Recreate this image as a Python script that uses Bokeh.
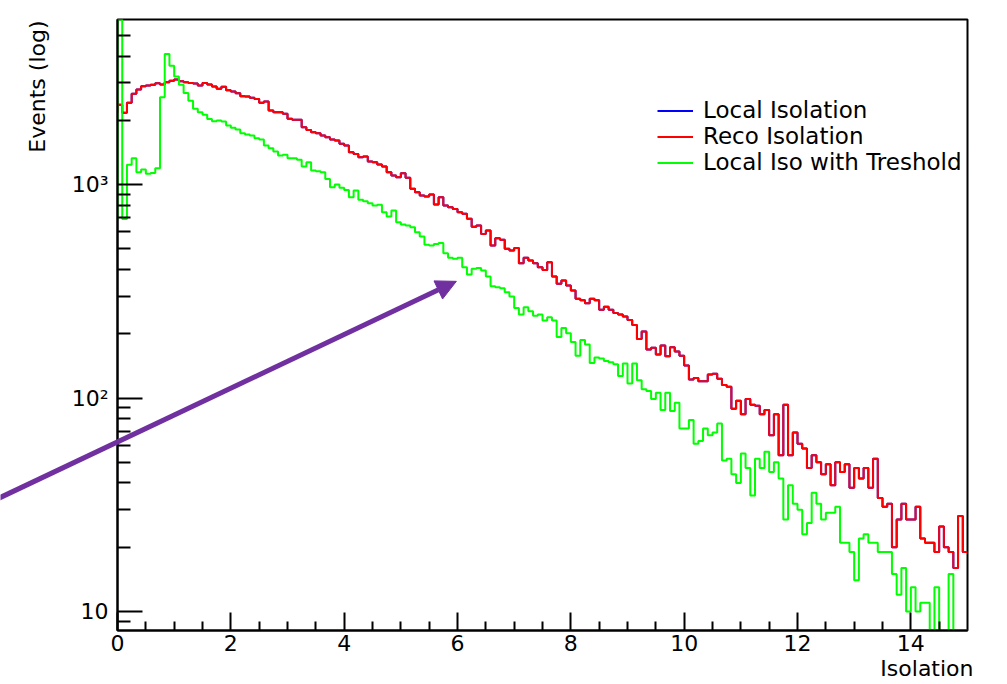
import numpy as np
from bokeh.plotting import figure
from bokeh.models import Range1d, FixedTicker, Title, Arrow, NormalHead
from bokeh.embed import file_html
from bokeh.resources import INLINE

# ---------------- data ----------------
x_min, x_max, n_bins = 0.0, 15.0, 180
y_min, y_max = 8.15, 5930.0

reco_isolation = [
    2362, 2168, 2416, 2661, 2786, 2884, 2908, 2931, 2981, 2940,
    3012, 3067, 3102, 3047, 3012, 2993, 2970, 2908, 2993, 2940,
    2876, 2807, 2870, 2767, 2729, 2680, 2594, 2585, 2548, 2519,
    2415, 2448, 2222, 2183, 2180, 2143, 2031, 2010, 2010, 1854,
    1803, 1758, 1739, 1697, 1667, 1626, 1607, 1552, 1524, 1417,
    1392, 1343, 1353, 1281, 1271, 1241, 1214, 1142, 1102, 1082,
    1129, 1075, 955, 920, 888, 879, 898, 806, 872, 797,
    783, 769, 742, 729, 691, 635, 643, 587, 609, 518,
    561, 551, 500, 491, 505, 428, 454, 441, 428, 410,
    398, 433, 371, 343, 355, 337, 319, 292, 287, 278,
    292, 287, 259, 268, 259, 250, 246, 241, 232, 220,
    189, 205, 169, 172, 160, 176, 157, 173, 165, 158,
    142, 122, 124, 120, 120, 129, 130, 123, 115, 113,
    89, 97, 84, 99, 93, 92, 84, 88, 67, 84,
    54, 93, 54, 69, 61, 58, 47, 54, 50, 44,
    49, 39, 50, 45, 49, 38, 47, 42, 47, 38,
    52, 34, 31, 32, 20, 27, 32, 27, 27, 31,
    22, 21, 21, 19, 25, 20, 19, 16, 28, 19,
]
# the blue curve is completely hidden under the red one in the picture
local_isolation = list(reco_isolation)

local_iso_threshold = [
    7000, 690, 1237, 1328, 1142, 1176, 1122, 1134, 1192, 2565,
    4093, 3605, 3203, 2931, 2686, 2466, 2264, 2183, 2120, 2030,
    1978, 1995, 1973, 1888, 1843, 1810, 1739, 1714, 1695, 1647,
    1624, 1523, 1480, 1428, 1368, 1378, 1328, 1328, 1305, 1214,
    1271, 1163, 1155, 1142, 1063, 972, 1000, 965, 944, 872,
    937, 848, 835, 818, 797, 804, 742, 708, 755, 666,
    650, 643, 631, 598, 571, 523, 518, 527, 533, 477,
    454, 449, 454, 410, 379, 403, 407, 396, 371, 334,
    330, 327, 313, 299, 264, 246, 266, 255, 243, 246,
    231, 239, 231, 193, 213, 201, 183, 158, 187, 178,
    146, 155, 153, 149, 147, 144, 127, 145, 117, 145,
    121, 110, 108, 99, 106, 88, 106, 87, 95, 72,
    72, 79, 61, 63, 72, 67, 69, 76, 51, 52,
    44, 40, 55, 47, 35, 52, 47, 56, 45, 50,
    42, 27, 39, 32, 30, 23, 26, 36, 32, 27,
    29, 29, 31, 21, 21, 19, 14, 22, 23, 21,
    21, 19, 19, 19, 15, 12, 16, 10, 13, 10,
    11, 11, 0, 13, 0, 0, 15, 0, 0, 0,
]

series_labels = ["Local Isolation", "Reco Isolation", "Local Iso with Treshold"]
series_colors = ["#0000ff", "#ff0000", "#00ff00"]

x_title = "Isolation"
y_title = "Events (log)"
x_ticks = [0, 2, 4, 6, 8, 10, 12, 14]
x_minor = [0.5, 1, 1.5, 2.5, 3, 3.5, 4.5, 5, 5.5, 6.5, 7, 7.5, 8.5, 9, 9.5,
           10.5, 11, 11.5, 12.5, 13, 13.5, 14.5]
y_ticks = [10, 100, 1000]
y_tick_labels = {10: "10", 100: "10²", 1000: "10³"}
y_minor = [9, 20, 30, 40, 50, 60, 70, 80, 90, 200, 300, 400, 500, 600, 700,
           800, 900, 2000, 3000, 4000, 5000]

arrow_x = [-2.1, 5.98]
arrow_y = [33.9, 352.0]

FONT = "DejaVu Sans"
W, H = 1007, 684
B_LEFT, B_RIGHT, B_TOP, B_BOTTOM = 117, 40, 19, 54

# ---------------- main figure ----------------
p = figure(width=W, height=H, y_axis_type="log",
           x_range=Range1d(x_min, x_max), y_range=Range1d(y_min, y_max),
           output_backend="svg", toolbar_location=None)
p.min_border_left = B_LEFT
p.min_border_right = B_RIGHT
p.min_border_top = B_TOP
p.min_border_bottom = B_BOTTOM
p.xgrid.visible = False
p.ygrid.visible = False
p.outline_line_color = "black"
p.outline_line_width = 2
p.background_fill_color = "white"
p.border_fill_color = "white"

edges = np.linspace(x_min, x_max, n_bins + 1)


def step_path(vals):
    v = np.asarray(vals, dtype=float)
    v = np.where(v <= 0, y_min, v)
    v = np.clip(v, y_min, y_max)
    xs = np.repeat(edges, 2)[1:-1]
    ys = np.repeat(v, 2)
    # ROOT starts the outline at the level of the neighbouring bin
    xs = np.concatenate([[edges[0]], xs])
    ys = np.concatenate([[v[1]], ys])
    return xs, ys


for vals, lab, col in zip([local_isolation, reco_isolation, local_iso_threshold],
                          series_labels, series_colors):
    xs, ys = step_path(vals)
    p.line(xs, ys, line_color=col, line_width=2, legend_label=lab)

# axes
for ax in (p.xaxis[0], p.yaxis[0]):
    ax.axis_line_width = 2
    ax.axis_line_color = "black"
    ax.major_tick_line_color = "black"
    ax.minor_tick_line_color = "black"
    ax.major_tick_line_width = 2
    ax.minor_tick_line_width = 2
    ax.major_tick_out = 0
    ax.minor_tick_out = 0
    ax.major_label_text_font = FONT
    ax.major_label_text_font_size = "22px"
    ax.major_label_text_color = "black"

p.xaxis.ticker = FixedTicker(ticks=x_ticks, minor_ticks=x_minor)
p.xaxis.major_tick_in = 18
p.xaxis.minor_tick_in = 9
p.xaxis.major_label_standoff = 4

p.yaxis.ticker = FixedTicker(ticks=y_ticks, minor_ticks=y_minor)
p.yaxis.major_label_overrides = y_tick_labels
p.yaxis.major_tick_in = 25
p.yaxis.minor_tick_in = 13
p.yaxis.major_label_standoff = 9

# axis titles (ROOT style: at the far end of each axis)
p.add_layout(Title(text=x_title, align="right", offset=-6, standoff=0,
                   text_font=FONT, text_font_size="22px",
                   text_font_style="normal", text_color="black"), "below")
p.add_layout(Title(text=y_title, align="right", offset=1, standoff=37,
                   text_font=FONT, text_font_size="22px",
                   text_font_style="normal", text_color="black"), "left")

# legend
lg = p.legend[0]
lg.location = (540, 455)
lg.border_line_alpha = 0
lg.background_fill_alpha = 0
lg.padding = 0
lg.margin = 0
lg.spacing = 0
lg.label_standoff = 10
lg.glyph_width = 36
lg.glyph_height = 25
lg.label_height = 25
lg.label_text_font = FONT
lg.label_text_font_size = "23px"
lg.label_text_color = "black"

# ---------------- transparent overlay for the arrow ----------------
# (the arrow leaves the plotting frame, so it is drawn on a full-canvas
#  overlay whose scales coincide with the main figure's scales)
sx = (W - B_LEFT - B_RIGHT) / (x_max - x_min)
ly0, ly1 = np.log10(y_min), np.log10(y_max)
sy = (H - B_TOP - B_BOTTOM) / (ly1 - ly0)
ov = figure(width=W, height=H, y_axis_type="log",
            x_range=Range1d(x_min - B_LEFT / sx, x_max + B_RIGHT / sx),
            y_range=Range1d(10 ** (ly0 - B_BOTTOM / sy), 10 ** (ly1 + B_TOP / sy)),
            output_backend="svg", toolbar_location=None,
            x_axis_location=None, y_axis_location=None)
ov.min_border_left = 0
ov.min_border_right = 0
ov.min_border_top = 0
ov.min_border_bottom = 0
ov.grid.visible = False
ov.outline_line_color = None
ov.background_fill_alpha = 0
ov.border_fill_alpha = 0
ov.styles = {"margin-top": f"-{H}px", "position": "relative", "z-index": "5",
             "pointer-events": "none"}

purple = "#7030a0"
ov.add_layout(Arrow(end=NormalHead(size=20, fill_color=purple, line_color=purple),
                    x_start=arrow_x[0], y_start=arrow_y[0],
                    x_end=arrow_x[1], y_end=arrow_y[1],
                    line_color=purple, line_width=5))

open("out.html", "w").write(file_html([p, ov], INLINE))
